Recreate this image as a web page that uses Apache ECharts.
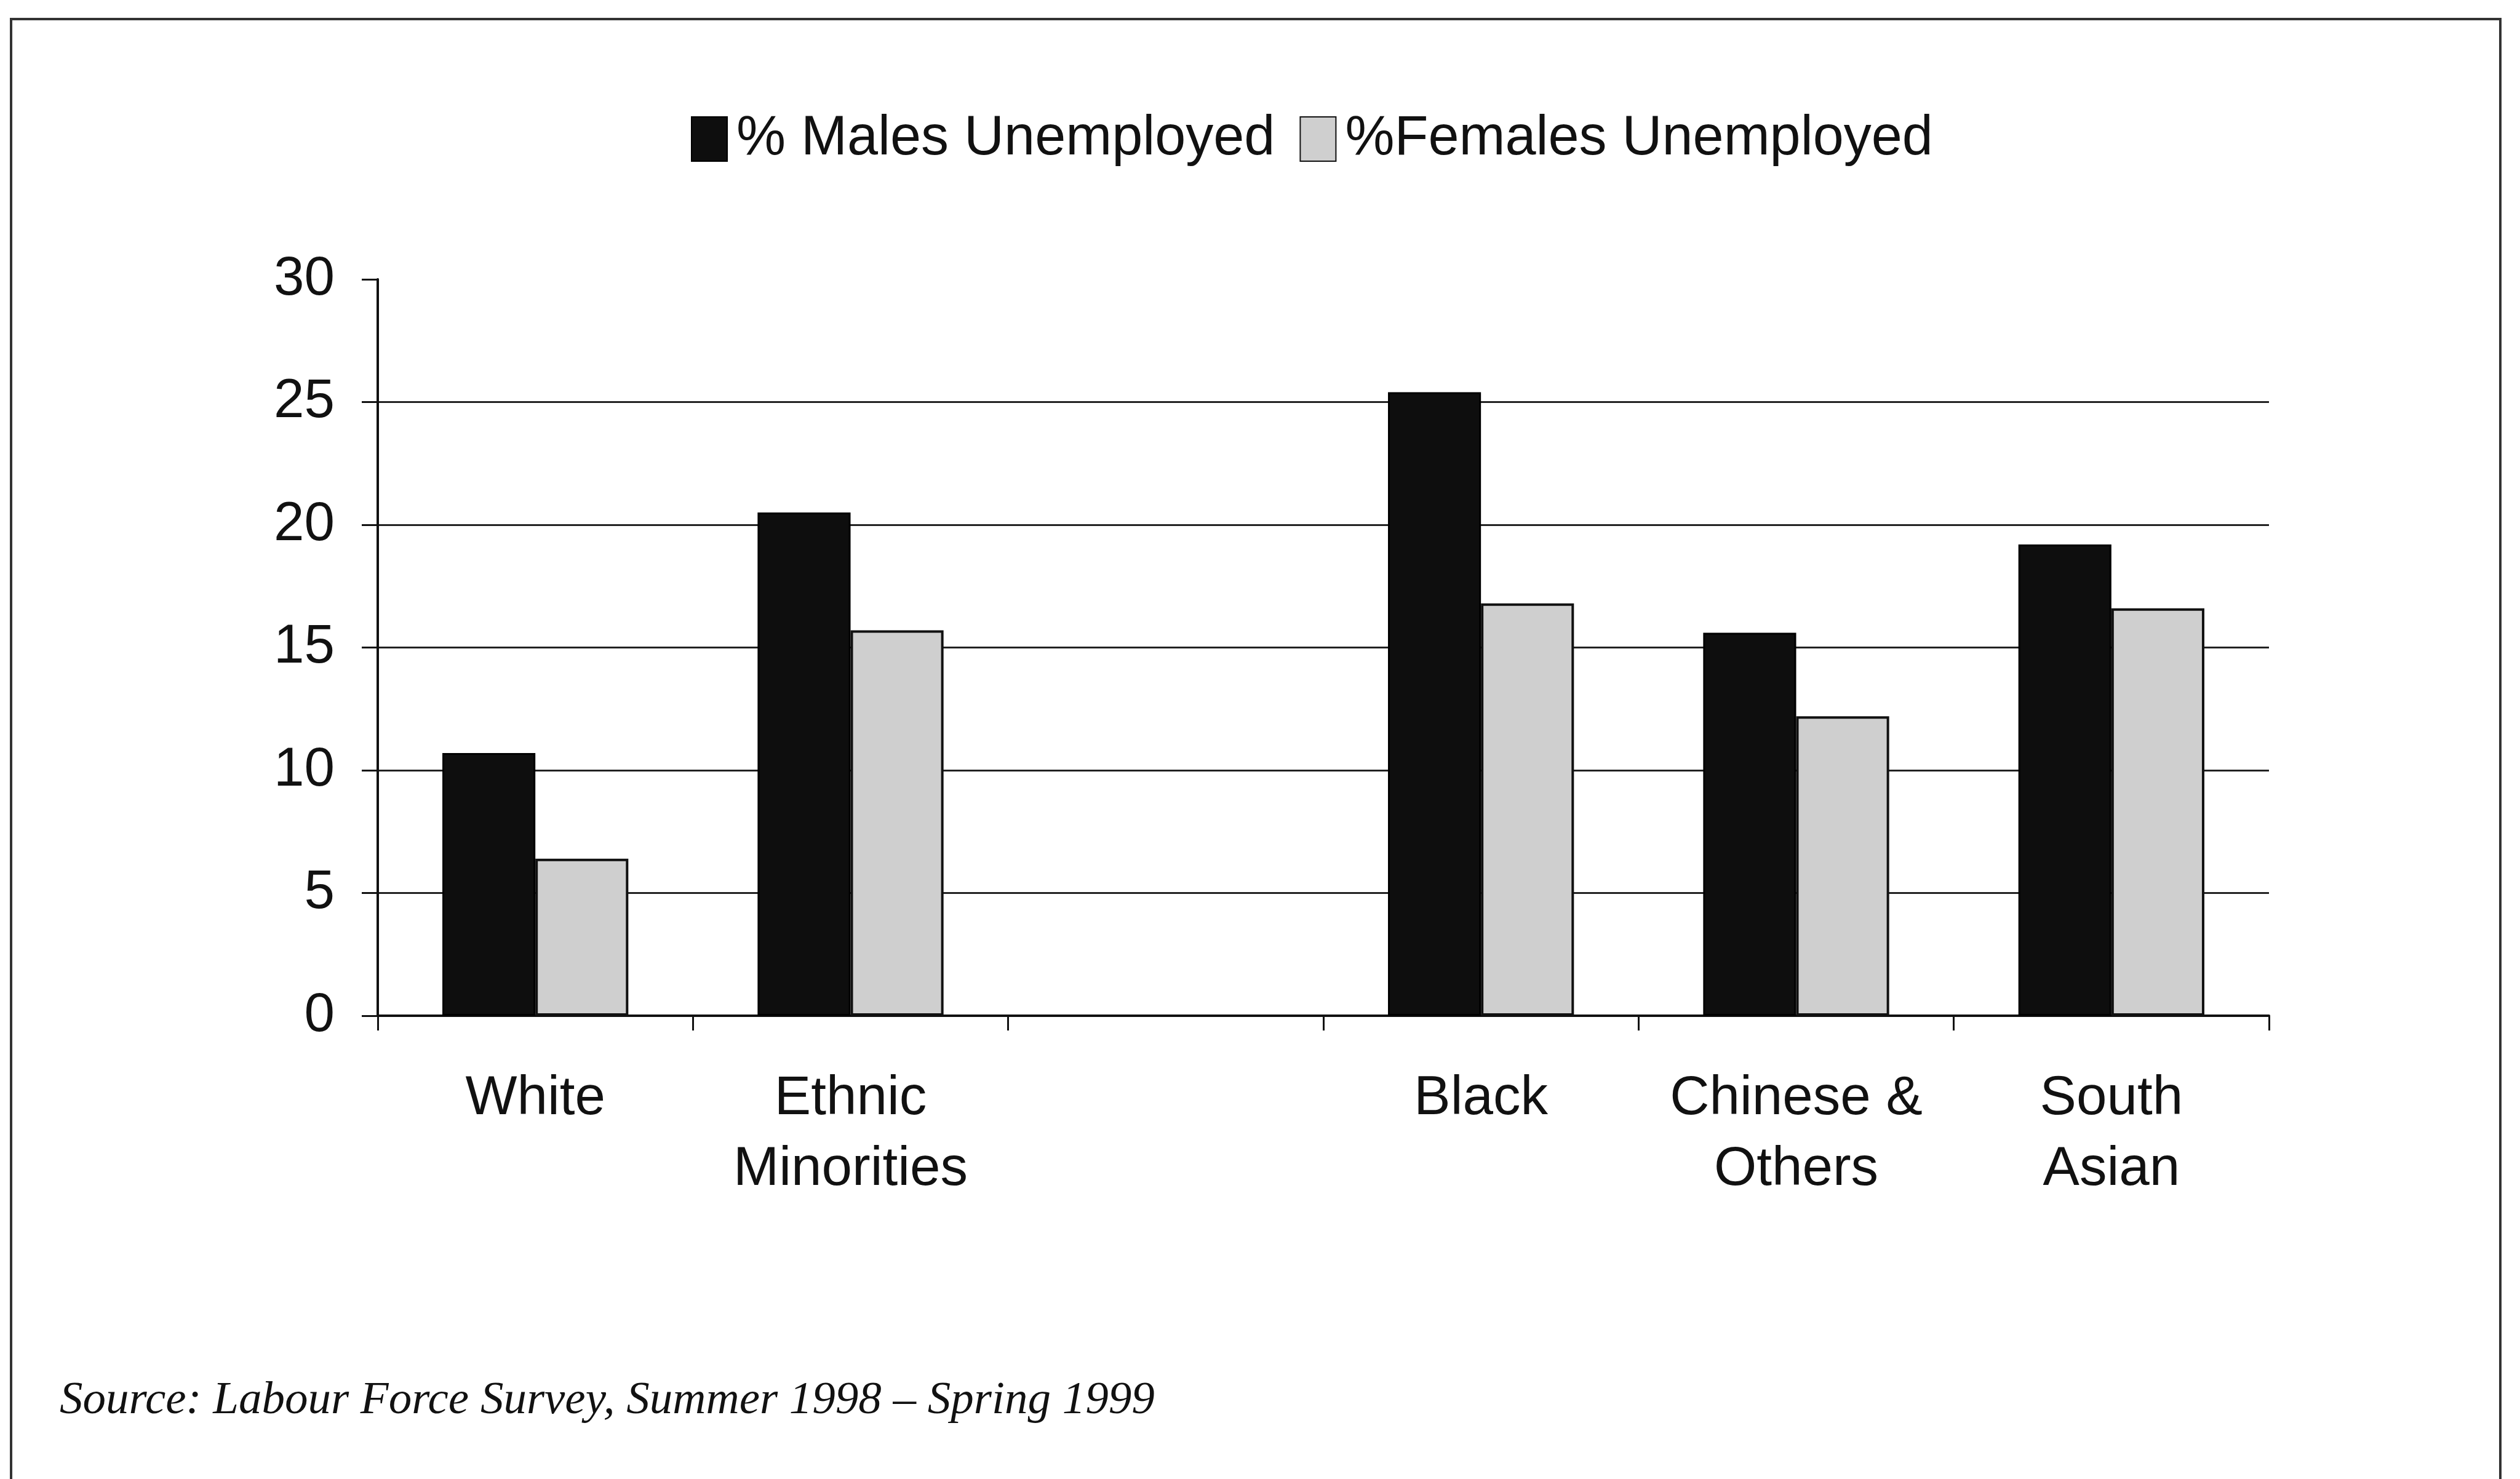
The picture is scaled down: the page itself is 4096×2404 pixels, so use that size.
<!DOCTYPE html>
<html>
<head>
<meta charset="utf-8">
<style>
  html, body { margin: 0; padding: 0; background: #fff; }
  #chart { width: 4096px; height: 2404px; }
</style>
<script src="https://cdn.jsdelivr.net/npm/echarts@6/dist/echarts.min.js"></script>
</head>
<body>
<div id="chart"></div>
<script>
// categories (the empty one is the gap in the original chart)
const categories = ['White', 'Ethnic\nMinorities', '', 'Black', 'Chinese &\nOthers', 'South\nAsian'];
const malesUnemployed = [10.7, 20.5, null, 25.4, 15.6, 19.2];
const femalesUnemployed = [6.4, 15.7, null, 16.8, 12.2, 16.6];
const seriesNames = ['% Males Unemployed', '%Females Unemployed'];
const sourceNote = 'Source: Labour Force Survey, Summer 1998 \u2013 Spring 1999';

const font = 'Arial, "Liberation Sans", sans-serif';

let myChart = echarts.init(document.getElementById('chart'));
myChart.setOption({
  backgroundColor: '#fff',
  animation: false,
  textStyle: { fontFamily: font, color: '#111' },
  legend: {
    left: 1118,
    top: 176,
    itemWidth: 58,
    itemHeight: 72,
    itemGap: 40,
    data: [
      { name: seriesNames[0], icon: 'rect' },
      { name: seriesNames[1], icon: 'rect' }
    ],
    textStyle: { fontSize: 90, fontFamily: font, color: '#111', padding: [0, 0, 0, 10] }
  },
  grid: {
    left: 614,
    right: 408,
    top: 454,
    bottom: 753
  },
  xAxis: {
    type: 'category',
    data: categories,
    axisLine: { lineStyle: { color: '#111', width: 4 } },
    axisTick: { show: true, length: 24, interval: 0, lineStyle: { color: '#111', width: 3 } },
    axisLabel: {
      interval: 0,
      margin: 78,
      fontSize: 89,
      lineHeight: 115,
      color: '#111',
      fontFamily: font
    },
    splitLine: { show: false }
  },
  yAxis: {
    type: 'value',
    min: 0,
    max: 30,
    interval: 5,
    axisLine: { show: true, lineStyle: { color: '#111', width: 4 } },
    axisTick: { show: true, length: 26, lineStyle: { color: '#111', width: 3 } },
    axisLabel: { margin: 70, fontSize: 89, color: '#111', fontFamily: font },
    splitLine: {
      show: true,
      // no line at the top (30)
      lineStyle: { color: ['#222', '#222', '#222', '#222', '#222', '#222', 'rgba(0,0,0,0)'], width: 3 }
    }
  },
  series: [
    {
      name: seriesNames[0],
      type: 'bar',
      data: malesUnemployed,
      barGap: '0%',
      barCategoryGap: '41%',
      itemStyle: { color: '#0e0e0e', borderColor: '#000', borderWidth: 3 }
    },
    {
      name: seriesNames[1],
      type: 'bar',
      data: femalesUnemployed,
      itemStyle: { color: '#cfcfcf', borderColor: '#111', borderWidth: 4 }
    }
  ],
  graphic: [
    {
      type: 'rect',
      shape: { x: 18, y: 31, width: 4046, height: 2500 },
      style: { fill: 'none', stroke: '#333', lineWidth: 4 },
      silent: true
    },
    {
      type: 'text',
      left: 97,
      top: 2240,
      style: {
        text: sourceNote,
        font: 'italic 75px "Liberation Serif", "Times New Roman", serif',
        fill: '#111'
      }
    }
  ]
});
</script>
</body>
</html>
